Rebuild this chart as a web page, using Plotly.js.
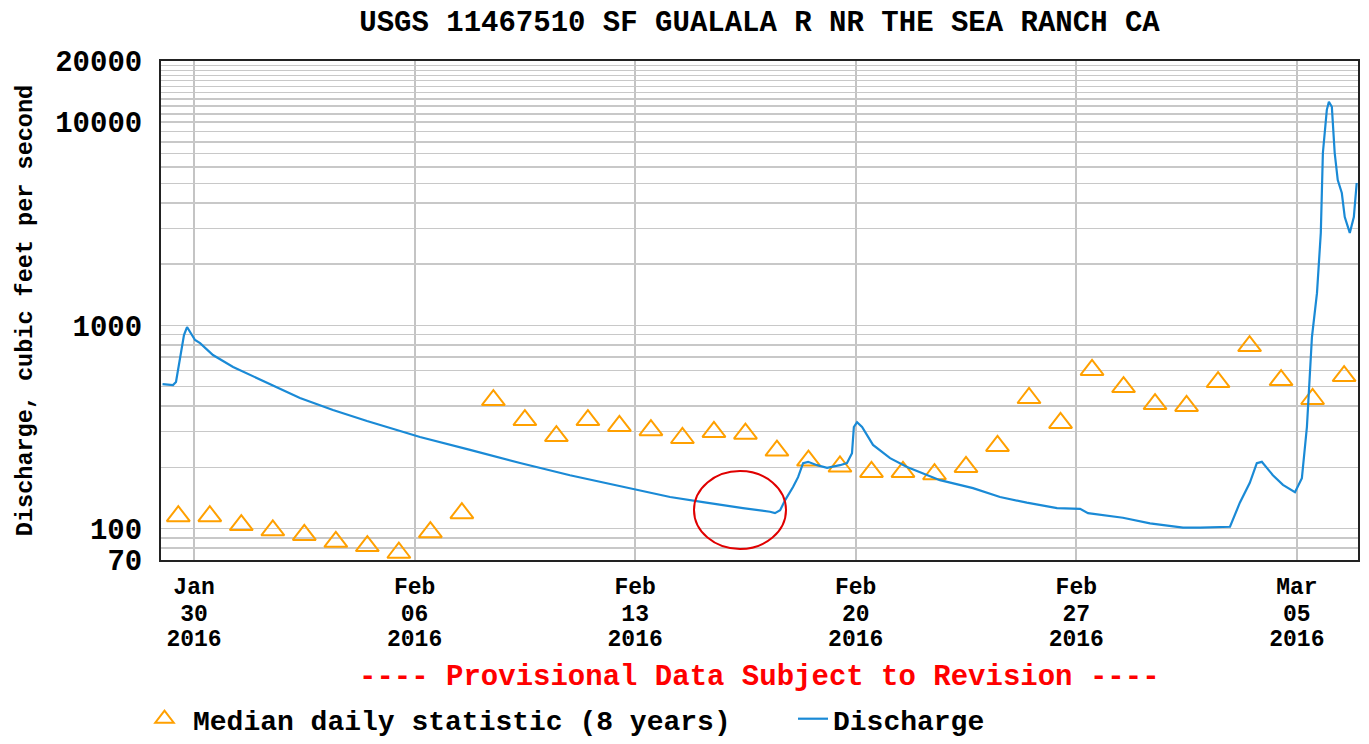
<!DOCTYPE html>
<html>
<head>
<meta charset="utf-8">
<script src="https://cdn.plot.ly/plotly-3.0.1.min.js"></script>
<style>html,body{margin:0;padding:0;background:#fff;}</style>
</head>
<body>
<div id="chart" style="width:1369px;height:744px;"></div>
<script>
// ---- data ----
const medianDates = [
  '2016-01-29 12:00','2016-01-30 12:00','2016-01-31 12:00',
  '2016-02-01 12:00','2016-02-02 12:00','2016-02-03 12:00','2016-02-04 12:00','2016-02-05 12:00',
  '2016-02-06 12:00','2016-02-07 12:00','2016-02-08 12:00','2016-02-09 12:00','2016-02-10 12:00',
  '2016-02-11 12:00','2016-02-12 12:00','2016-02-13 12:00','2016-02-14 12:00','2016-02-15 12:00',
  '2016-02-16 12:00','2016-02-17 12:00','2016-02-18 12:00','2016-02-19 12:00','2016-02-20 12:00',
  '2016-02-21 12:00','2016-02-22 12:00','2016-02-23 12:00','2016-02-24 12:00','2016-02-25 12:00',
  '2016-02-26 12:00','2016-02-27 12:00','2016-02-28 12:00','2016-02-29 12:00',
  '2016-03-01 12:00','2016-03-02 12:00','2016-03-03 12:00','2016-03-04 12:00','2016-03-05 12:00',
  '2016-03-06 12:00'
];
const medianValues = [
  115, 115, 104,
  98, 93, 86, 82, 76, 96, 119, 429, 342, 285, 342, 320, 305, 279, 299,
  293, 242, 216, 202, 190, 190, 185, 201, 255, 439, 331, 603, 497, 410,
  401, 526, 791, 538, 434, 563
];

const dischargeTimes = [
  '2016-01-29 00:00','2016-01-29 08:00','2016-01-29 10:15','2016-01-29 11:50','2016-01-29 14:05',
  '2016-01-29 16:20','2016-01-29 18:40','2016-01-29 21:00','2016-01-30 00:45','2016-01-30 04:35',
  '2016-01-30 14:25','2016-01-31 05:45','2016-02-01 07:40','2016-02-02 08:40','2016-02-03 09:50',
  '2016-02-04 11:45','2016-02-05 13:00','2016-02-06 04:05','2016-02-07 18:15','2016-02-09 08:20',
  '2016-02-10 22:20','2016-02-12 12:30','2016-02-14 02:35','2016-02-15 03:40','2016-02-15 16:35',
  '2016-02-16 10:05','2016-02-17 06:40','2016-02-17 10:30','2016-02-17 14:25','2016-02-17 18:15',
  '2016-02-18 00:15','2016-02-18 04:05','2016-02-18 07:55','2016-02-18 11:45','2016-02-18 18:30',
  '2016-02-19 02:10','2016-02-19 12:00','2016-02-19 17:20','2016-02-19 21:10','2016-02-19 22:35',
  '2016-02-20 01:00','2016-02-20 04:50','2016-02-20 13:10','2016-02-21 02:10','2016-02-21 15:05',
  '2016-02-22 16:10','2016-02-23 17:20','2016-02-24 13:55','2016-02-25 10:20','2016-02-26 09:20',
  '2016-02-27 02:55','2016-02-27 08:55','2016-02-28 11:30','2016-02-29 08:10','2016-03-01 09:20',
  '2016-03-01 22:20','2016-03-02 21:05','2016-03-03 04:35','2016-03-03 12:10','2016-03-03 17:30',
  '2016-03-03 21:20','2016-03-04 05:45','2016-03-04 13:25','2016-03-04 22:35','2016-03-05 03:50',
  '2016-03-05 07:40','2016-03-05 11:30','2016-03-05 15:20','2016-03-05 18:15','2016-03-05 19:50',
  '2016-03-05 22:50','2016-03-06 00:25','2016-03-06 02:40','2016-03-06 03:25','2016-03-06 04:50',
  '2016-03-06 07:10','2016-03-06 10:15','2016-03-06 12:30','2016-03-06 16:20','2016-03-06 19:25',
  '2016-03-06 21:35'
];
const dischargeValues = [
  514, 508, 526, 603, 756,
  896, 981, 927, 847, 818,
  714, 624, 520, 439, 383,
  338, 302, 282, 244, 210,
  183, 162, 143, 135, 131,
  126, 121, 119, 123, 138,
  160, 179, 210, 213, 205,
  199, 205, 210, 235, 316,
  334, 316, 258, 222, 201,
  173, 158, 143, 134, 126,
  125, 119, 113, 106, 101,
  101, 102, 134, 168, 210,
  213, 183, 164, 151, 177,
  316, 876, 1440, 2850, 7050,
  11500, 12600, 11900, 9460, 7050,
  5190, 4480, 3410, 2850, 3410,
  5020
];

const xTickDates = ['2016-01-30','2016-02-06','2016-02-13','2016-02-20','2016-02-27','2016-03-05'];
const xTickMonths = ['Jan','Feb','Feb','Feb','Feb','Mar'];
const xTickDays = ['30','06','13','20','27','05'];
const xTickYears = ['2016','2016','2016','2016','2016','2016'];

const yGridValues = [70,80,90,100,200,300,400,500,600,700,800,900,
  1000,2000,3000,4000,5000,6000,7000,8000,9000,
  10000,11000,12000,13000,14000,15000,16000,17000,18000,19000,20000];
const yLabelValues = [70,100,1000,10000,20000];

const titleText = 'USGS 11467510 SF GUALALA R NR THE SEA RANCH CA';
const yTitleText = 'Discharge, cubic feet per second';
const noteText = '---- Provisional Data Subject to Revision ----';
const medianName = 'Median daily statistic (8 years)';
const dischargeName = 'Discharge';

// ---- chart ----
const FONT = '"Liberation Mono", "DejaVu Sans Mono", monospace';
const baseFont = {family: FONT, size: 29, color: '#000', weight: 'bold'};
const legendFont = {family: FONT, size: 28, color: '#000', weight: 'bold'};
const xTickFont = {family: FONT, size: 23, color: '#000', weight: 'bold'};
const xRange = ['2016-01-28 22:50', '2016-03-06 22:35'];

const yTickText = yGridValues.map(v => yLabelValues.indexOf(v) >= 0 ? String(v) : '');

const traces = [
  {
    type: 'scatter', mode: 'markers', name: medianName, legend: 'legend',
    x: medianDates, y: medianValues,
    marker: {symbol: 'triangle-up-open', size: 20, color: '#ffa000', line: {width: 2, color: '#ffa000'}},
    hoverinfo: 'skip'
  },
  {
    type: 'scatter', mode: 'lines', name: dischargeName, legend: 'legend2',
    x: dischargeTimes, y: dischargeValues,
    line: {color: '#1a8ad6', width: 2.2},
    hoverinfo: 'skip'
  },
  // empty helper traces so the extra label axes (day, year rows) are drawn
  {type: 'scatter', mode: 'markers', x: [], y: [], xaxis: 'x2', yaxis: 'y', showlegend: false, hoverinfo: 'skip'},
  {type: 'scatter', mode: 'markers', x: [], y: [], xaxis: 'x3', yaxis: 'y', showlegend: false, hoverinfo: 'skip'}
];

const tickAxisCommon = {
  type: 'date', range: xRange, autorange: false, tickmode: 'array', tickvals: xTickDates,
  showgrid: false, showline: false, zeroline: false, ticks: '',
  tickfont: xTickFont, fixedrange: true, automargin: false
};

const legendCommon = {
  orientation: 'h', xanchor: 'left',
  y: 1 - 719 / 744, yref: 'container', yanchor: 'middle',
  font: legendFont, bgcolor: 'rgba(0,0,0,0)', borderwidth: 0
};

const layout = {
  width: 1369, height: 744,
  margin: {l: 161, r: 11, t: 61, b: 184, autoexpand: false},
  paper_bgcolor: '#ffffff', plot_bgcolor: '#ffffff',
  showlegend: true,
  title: {
    text: titleText, font: baseFont,
    x: 0.5, xref: 'paper', xanchor: 'center',
    y: 1 - 21 / 744, yref: 'container', yanchor: 'middle'
  },
  xaxis: Object.assign({}, tickAxisCommon, {
    ticktext: xTickMonths, ticklabelstandoff: 4,
    showgrid: true, gridcolor: '#c4c4c4', gridwidth: 2,
    showline: true, linecolor: '#222', linewidth: 2, mirror: true
  }),
  xaxis2: Object.assign({}, tickAxisCommon, {
    overlaying: 'x', anchor: 'y', side: 'bottom',
    ticktext: xTickDays, ticklabelstandoff: 37
  }),
  xaxis3: Object.assign({}, tickAxisCommon, {
    overlaying: 'x', anchor: 'y', side: 'bottom',
    ticktext: xTickYears, ticklabelstandoff: 62
  }),
  yaxis: {
    type: 'log', range: [Math.log10(70), Math.log10(20000)],
    tickmode: 'array', tickvals: yGridValues, ticktext: yTickText,
    showgrid: true, gridcolor: '#c8c8c8', gridwidth: 1.5,
    showline: true, linecolor: '#222', linewidth: 2, mirror: true,
    ticks: '', ticklabelstandoff: 11, zeroline: false, fixedrange: true,
    tickfont: baseFont,
    title: {text: yTitleText, font: {family: FONT, size: 23.5, color: '#000', weight: 'bold'}, standoff: 16}
  },
  legend: Object.assign({}, legendCommon, {x: (136 - 161) / 1197, itemwidth: 47}),
  legend2: Object.assign({}, legendCommon, {x: (793 - 161) / 1197, itemwidth: 30}),
  annotations: [
    {
      text: noteText, xref: 'paper', yref: 'paper', x: 0.5, y: (560 - 677) / 499,
      xanchor: 'center', yanchor: 'middle', showarrow: false,
      font: {family: FONT, size: 29, color: '#ff0000', weight: 'bold'}
    }
  ],
  shapes: [
    {
      type: 'circle', xref: 'paper', yref: 'paper',
      x0: (694 - 161) / 1197, x1: (786 - 161) / 1197,
      y0: (560 - 549) / 499, y1: (560 - 471) / 499,
      line: {color: '#e00000', width: 2}
    }
  ]
};

Plotly.newPlot('chart', traces, layout, {displayModeBar: false, staticPlot: true});
</script>
</body>
</html>
